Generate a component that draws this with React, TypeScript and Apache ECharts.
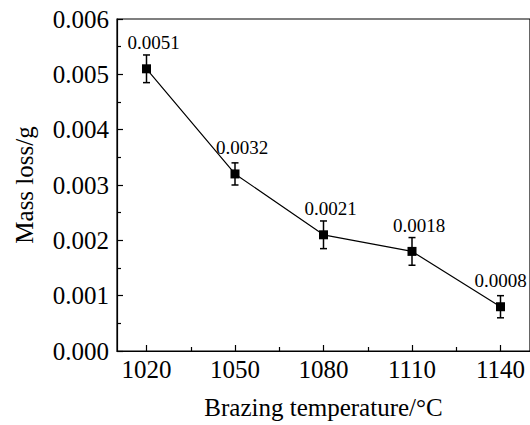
import React, { useEffect, useRef } from "react";
import * as echarts from "echarts";

const temperatures = [1020, 1050, 1080, 1110, 1140];
const massLoss = [0.0051, 0.0032, 0.0021, 0.0018, 0.0008];
const errors = [0.00025, 0.0002, 0.00025, 0.00025, 0.0002];
const xMajorTicks = [1020, 1050, 1080, 1110, 1140];
const xMinorTicks = [1035, 1065, 1095, 1125];

const FONT = "Liberation Serif";

export default function App() {
  const ref = useRef<HTMLDivElement>(null);
  useEffect(() => {
    if (!ref.current) return;
    const chart = echarts.init(ref.current, null, { renderer: "svg" });
    const points = temperatures.map((t, i) => ({
      value: [t, massLoss[i]],
      label: { offset: i === temperatures.length - 1 ? [0, 0] : [7, 0] },
    }));
    const errData = temperatures.map((t, i) => [t, massLoss[i] - errors[i], massLoss[i] + errors[i]]);
    chart.setOption({
      animation: false,
      backgroundColor: "#fff",
      textStyle: { fontFamily: FONT },
      grid: {
        left: 117,
        top: 19,
        right: 0,
        bottom: 70,
        show: true,
        borderColor: "#000",
        borderWidth: 1.2,
        backgroundColor: "transparent",
      },
      xAxis: [
        {
          type: "value",
          min: 1010,
          max: 1150,
          name: "Brazing temperature/°C",
          nameLocation: "middle",
          nameGap: 44,
          nameTextStyle: { fontFamily: FONT, fontSize: 25, color: "#000" },
          axisLine: { show: true, onZero: false, lineStyle: { color: "#000", width: 1.2 } },
          axisTick: { show: true, inside: true, length: 6, customValues: xMajorTicks, lineStyle: { color: "#000", width: 1.2 } },
          axisLabel: {
            show: true,
            customValues: xMajorTicks,
            margin: 6,
            fontFamily: FONT,
            fontSize: 25,
            color: "#000",
            formatter: (v: number) => String(v),
          },
          splitLine: { show: false },
        },
        {
          type: "value",
          position: "bottom",
          min: 1010,
          max: 1150,
          axisLine: { show: true, onZero: false, lineStyle: { color: "rgba(0,0,0,0)", width: 1 } },
          axisTick: { show: true, inside: true, length: 4, customValues: xMinorTicks, lineStyle: { color: "#000", width: 1.2 } },
          axisLabel: { show: false, customValues: xMinorTicks },
          splitLine: { show: false },
        },
      ],
      yAxis: {
        type: "value",
        min: 0,
        max: 0.006,
        interval: 0.001,
        name: "Mass loss/g",
        nameLocation: "middle",
        nameGap: 80,
        nameTextStyle: { fontFamily: FONT, fontSize: 25, color: "#000" },
        axisLine: { show: true, lineStyle: { color: "#000", width: 1.2 } },
        axisTick: { show: true, inside: true, length: 6, lineStyle: { color: "#000", width: 1.2 } },
        minorTick: { show: true, splitNumber: 2, length: 4, lineStyle: { color: "#000", width: 1.2 } },
        axisLabel: {
          margin: 8,
          fontFamily: FONT,
          fontSize: 25,
          color: "#000",
          formatter: (v: number) => v.toFixed(3),
        },
        splitLine: { show: false },
        minorSplitLine: { show: false },
      },
      series: [
        {
          type: "custom",
          xAxisIndex: 0,
          data: errData,
          z: 1,
          renderItem: (params: any, api: any) => {
            const x = api.value(0);
            const lo = api.coord([x, api.value(1)]);
            const hi = api.coord([x, api.value(2)]);
            const cap = 3.5;
            const style = { stroke: "#000", lineWidth: 1.5, fill: "none" };
            return {
              type: "group",
              children: [
                { type: "line", shape: { x1: lo[0], y1: lo[1], x2: hi[0], y2: hi[1] }, style },
                { type: "line", shape: { x1: lo[0] - cap, y1: lo[1], x2: lo[0] + cap, y2: lo[1] }, style },
                { type: "line", shape: { x1: hi[0] - cap, y1: hi[1], x2: hi[0] + cap, y2: hi[1] }, style },
              ],
            };
          },
        },
        {
          type: "line",
          xAxisIndex: 0,
          data: points,
          z: 3,
          symbol: "rect",
          symbolSize: 9,
          itemStyle: { color: "#000" },
          lineStyle: { color: "#000", width: 1.2 },
          label: {
            show: true,
            position: "top",
            distance: 12,
            fontFamily: FONT,
            fontSize: 19,
            color: "#000",
            formatter: (p: any) => String(p.value[1]),
          },
        },
      ],
    });
    return () => chart.dispose();
  }, []);
  return <div ref={ref} style={{ width: 530, height: 425, position: "absolute", left: 0, top: 0 }} />;
}
